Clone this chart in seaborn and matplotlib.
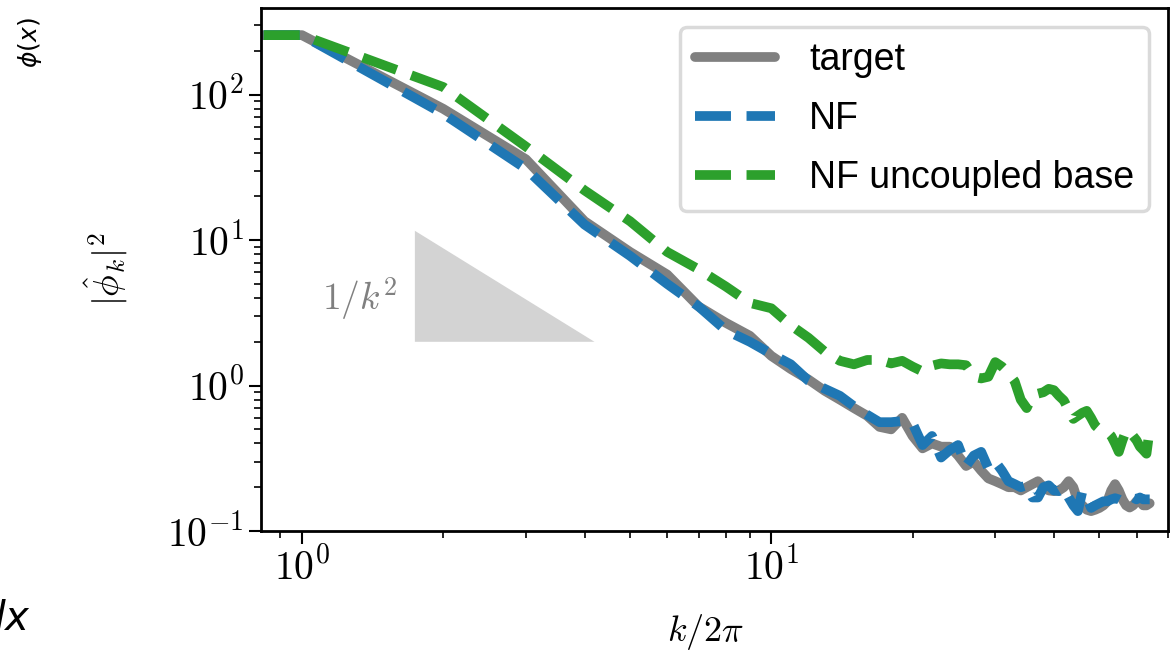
import numpy as np
import matplotlib
matplotlib.use("Agg")
import matplotlib.pyplot as plt
from matplotlib.patches import Polygon
from matplotlib.ticker import FuncFormatter, NullFormatter
import seaborn as sns

# wavenumbers (first point is the zero mode, drawn off to the left edge)
k = [0.5] + list(range(1, 65))

target = [257, 257, 80, 36, 13.5, 8.3, 5.8, 3.5, 2.7, 2.2, 1.6,
          1.3, 1.1, 0.92, 0.8, 0.7, 0.62, 0.52, 0.5, 0.6, 0.45,
          0.37, 0.4, 0.38, 0.38, 0.33, 0.28, 0.3, 0.26, 0.23, 0.22,
          0.21, 0.2, 0.2, 0.19, 0.2, 0.21, 0.22, 0.2, 0.19, 0.188,
          0.19, 0.2, 0.22, 0.2, 0.16, 0.15, 0.14, 0.137, 0.14, 0.144,
          0.15, 0.16, 0.19, 0.21, 0.19, 0.165, 0.15, 0.145, 0.15, 0.16,
          0.16, 0.15, 0.15, 0.155]

nf = [257, 257, 74, 31, 12.8, 7.8, 5.0, 3.5, 2.4, 2.0, 1.65,
      1.4, 1.08, 0.95, 0.85, 0.72, 0.63, 0.56, 0.56, 0.57, 0.55,
      0.39, 0.45, 0.32, 0.36, 0.39, 0.28, 0.33, 0.35, 0.27, 0.3,
      0.26, 0.22, 0.21, 0.2, 0.206, 0.17, 0.17, 0.2, 0.206, 0.19,
      0.188, 0.197, 0.17, 0.15, 0.137, 0.188, 0.17, 0.144, 0.15, 0.155,
      0.16, 0.16, 0.165, 0.168, 0.165, 0.16, 0.16, 0.165, 0.17, 0.165,
      0.17, 0.165, 0.165, 0.165]

nf_uncoupled = [257, 257, 113, 44, 22, 13.5, 8.3, 6.3, 4.8, 3.7, 3.4,
                2.6, 2.13, 1.71, 1.48, 1.4, 1.5, 1.5, 1.42, 1.48, 1.35,
                1.25, 1.37, 1.42, 1.4, 1.4, 1.38, 1.15, 1.12, 1.15, 1.45,
                1.35, 1.22, 1.07, 0.8, 0.7, 0.85, 0.88, 0.9, 0.95, 0.93,
                0.85, 0.79, 0.68, 0.59, 0.62, 0.65, 0.67, 0.6, 0.53, 0.5,
                0.49, 0.48, 0.45, 0.4, 0.35, 0.42, 0.49, 0.49, 0.45, 0.42,
                0.38, 0.36, 0.34, 0.5]

# reference 1/k^2 slope triangle
tri_k = [1.74, 4.2]
tri_y = [2.0, 11.6]

sns.set_style("ticks", rc={"text.color": "black", "axes.labelcolor": "black",
                           "xtick.color": "black", "ytick.color": "black",
                           "axes.edgecolor": "black"})
plt.rcParams["mathtext.fontset"] = "cm"
plt.rcParams["font.family"] = ["DejaVu Sans"]

fig, ax = plt.subplots(figsize=(11.71, 6.5), dpi=100)
fig.subplots_adjust(left=0.2229, right=0.9974, bottom=0.1831, top=0.9877)

sns.lineplot(x=k, y=target, color="gray", lw=7, label="target", ax=ax)
sns.lineplot(x=k, y=nf, color="tab:blue", lw=7, linestyle="--", label="NF", ax=ax)
sns.lineplot(x=k, y=nf_uncoupled, color="tab:green", lw=7, linestyle="--",
             label="NF uncoupled base", ax=ax)

ax.add_patch(Polygon([[tri_k[0], tri_y[0]], [tri_k[0], tri_y[1]], [tri_k[1], tri_y[0]]],
                     closed=True, facecolor="lightgray", edgecolor="none", zorder=1))
ax.text(1.6, 3.95, r"$1/k^2$", color="gray", fontsize=27, ha="right", va="center")

ax.set_xscale("log")
ax.set_yscale("log")
ax.set_xlim(0.818, 70)
ax.set_ylim(0.1, 395)

fmt = FuncFormatter(lambda v, p: r"$10^{%d}$" % round(np.log10(v)))
for axis in (ax.xaxis, ax.yaxis):
    axis.set_major_formatter(fmt)
    axis.set_minor_formatter(NullFormatter())

ax.tick_params(which="major", labelsize=28.5, length=9, width=1.5, direction="out")
ax.tick_params(which="minor", length=5, width=1.2, direction="out")
for s in ax.spines.values():
    s.set_visible(True)
    s.set_linewidth(2)

ax.set_xlabel(r"$k/2\pi$", fontsize=26)
ax.set_ylabel(r"$|\hat{\phi}_k|^2$", fontsize=26)
ax.xaxis.set_label_coords(0.49, -0.155)
ax.yaxis.set_label_coords(-0.145, 0.5)

leg = ax.legend(loc="upper right", prop={"family": "Liberation Sans", "size": 27},
                handlelength=2.15, handletextpad=0.9, frameon=True,
                borderaxespad=0.5, labelspacing=0.62)
leg.get_frame().set_linewidth(2.5)
leg.get_frame().set_edgecolor("0.82")

# stray labels from neighbouring panels
fig.text(30 / 1171, 1 - 43 / 650, r"$\phi(x)$", rotation=90, ha="center", va="center",
         fontsize=18, math_fontfamily="dejavusans")
fig.text(-21 / 1171, 20 / 650, r"$dx$", fontsize=29, math_fontfamily="dejavusans",
         ha="left", va="baseline")

fig.savefig("out.png", dpi=100)
